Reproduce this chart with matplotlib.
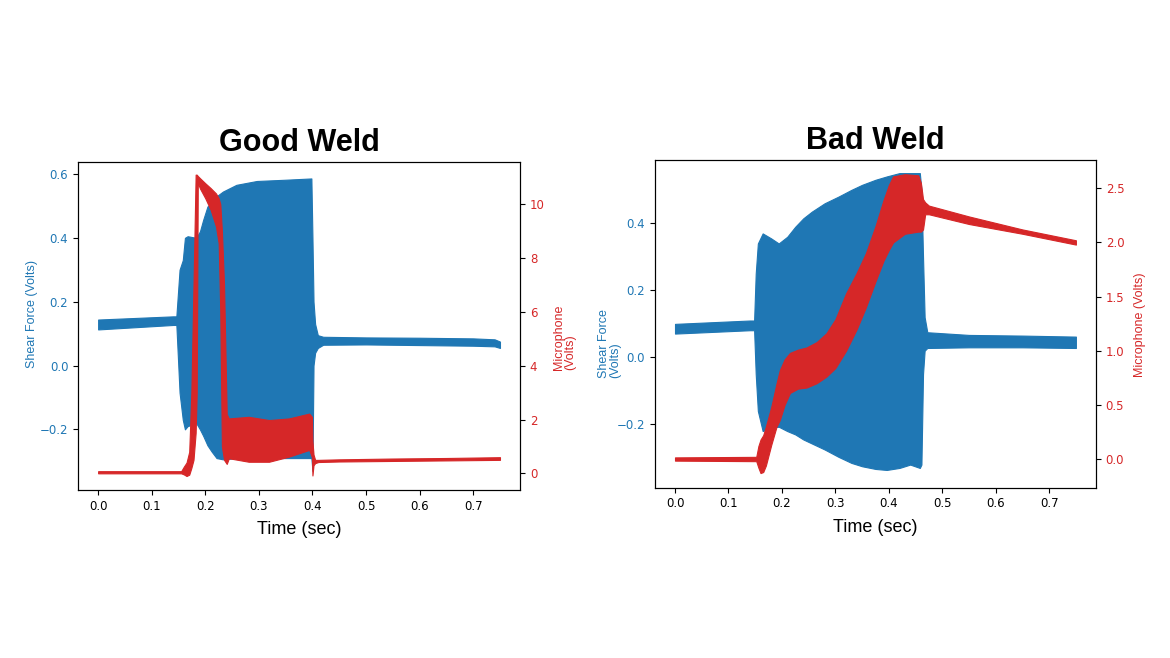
"""Good weld vs bad weld: shear force and microphone envelopes."""

import matplotlib
matplotlib.use("Agg")
import matplotlib.pyplot as plt

BLUE = "#1f77b4"
RED = "#d62728"

# ---- Good weld: shear force envelope (Volts) ----
good_shear_t = [0.000, 0.140, 0.146, 0.152, 0.158, 0.162, 0.167, 0.183, 0.190,
                0.196, 0.204, 0.212, 0.221, 0.233, 0.258, 0.296, 0.350, 0.398,
                0.400, 0.402, 0.405, 0.410, 0.420, 0.500, 0.600, 0.700, 0.740, 0.750]
good_shear_hi = [0.144, 0.154, 0.154, 0.30, 0.33, 0.40, 0.405, 0.40, 0.42,
                 0.456, 0.498, 0.51, 0.53, 0.545, 0.566, 0.578, 0.582, 0.586,
                 0.40, 0.20, 0.13, 0.095, 0.090, 0.088, 0.087, 0.085, 0.082, 0.075]
good_shear_lo = [0.113, 0.127, 0.127, -0.085, -0.17, -0.20, -0.19, -0.18, -0.20,
                 -0.22, -0.25, -0.27, -0.29, -0.294, -0.29, -0.29, -0.29, -0.29,
                 -0.33, 0.00, 0.04, 0.055, 0.065, 0.066, 0.064, 0.062, 0.060, 0.055]

# ---- Good weld: microphone envelope (Volts) ----
good_mic_t = [0.000, 0.155, 0.160, 0.165, 0.170, 0.174, 0.178, 0.182, 0.184,
              0.186, 0.190, 0.200, 0.210, 0.220, 0.225, 0.228, 0.231, 0.235,
              0.240, 0.244, 0.281, 0.319, 0.356, 0.394, 0.399, 0.400, 0.402,
              0.405, 0.411, 0.450, 0.550, 0.650, 0.750]
good_mic_hi = [0.08, 0.08, 0.25, 0.40, 0.80, 3.0, 7.0, 11.1, 11.1,
               11.05, 10.97, 10.78, 10.6, 10.4, 10.22, 10.0, 9.0, 7.0,
               2.2, 2.04, 2.10, 1.98, 2.04, 2.22, 2.10, 1.2, 0.70,
               0.50, 0.50, 0.52, 0.55, 0.57, 0.60]
good_mic_lo = [0.00, 0.00, -0.04, -0.10, -0.05, 0.20, 0.50, 1.5, 3.0,
               10.8, 10.59, 10.22, 9.79, 9.17, 8.55, 6.0, 1.0, 0.5,
               0.35, 0.56, 0.43, 0.43, 0.62, 0.87, 0.60, -0.08, 0.30,
               0.38, 0.42, 0.44, 0.46, 0.48, 0.50]

# ---- Bad weld: shear force envelope (Volts) ----
bad_shear_t = [0.000, 0.140, 0.148, 0.151, 0.155, 0.164, 0.180, 0.194, 0.210,
               0.225, 0.240, 0.256, 0.280, 0.306, 0.330, 0.350, 0.375, 0.396,
               0.420, 0.440, 0.458, 0.461, 0.464, 0.467, 0.472, 0.550, 0.650, 0.750]
bad_shear_hi = [0.100, 0.110, 0.110, 0.25, 0.34, 0.37, 0.355, 0.34, 0.36,
                0.39, 0.415, 0.435, 0.46, 0.48, 0.50, 0.515, 0.53, 0.54,
                0.55, 0.55, 0.55, 0.50, 0.30, 0.12, 0.075, 0.067, 0.065, 0.062]
bad_shear_lo = [0.071, 0.081, 0.081, -0.05, -0.16, -0.22, -0.21, -0.207, -0.22,
                -0.23, -0.245, -0.257, -0.275, -0.297, -0.315, -0.325, -0.333, -0.336,
                -0.33, -0.32, -0.33, -0.32, -0.05, 0.02, 0.028, 0.030, 0.030, 0.028]

# ---- Bad weld: microphone envelope (Volts) ----
bad_mic_t = [0.000, 0.152, 0.156, 0.160, 0.165, 0.170, 0.180, 0.190, 0.196,
             0.205, 0.215, 0.230, 0.246, 0.265, 0.283, 0.300, 0.320, 0.340,
             0.357, 0.375, 0.390, 0.400, 0.408, 0.430, 0.455, 0.460, 0.464,
             0.468, 0.475, 0.550, 0.650, 0.750]
bad_mic_hi = [0.015, 0.02, 0.12, 0.18, 0.22, 0.30, 0.48, 0.70, 0.82,
              0.92, 0.98, 1.01, 1.03, 1.08, 1.16, 1.29, 1.53, 1.72,
              1.90, 2.15, 2.39, 2.53, 2.61, 2.63, 2.62, 2.55, 2.40,
              2.37, 2.34, 2.24, 2.12, 2.02]
bad_mic_lo = [-0.015, -0.02, -0.08, -0.13, -0.12, -0.06, 0.13, 0.30, 0.36,
              0.50, 0.61, 0.65, 0.66, 0.70, 0.76, 0.84, 1.00, 1.20,
              1.40, 1.64, 1.83, 1.93, 2.00, 2.08, 2.10, 2.10, 2.12,
              2.26, 2.26, 2.17, 2.08, 1.98]

time_ticks = [0.0, 0.1, 0.2, 0.3, 0.4, 0.5, 0.6, 0.7]


def weld_panel(rect, title, t_s, s_hi, s_lo, t_m, m_hi, m_lo,
               s_ylim, s_ticks, m_ylim, m_ticks):
    ax = fig.add_axes(rect)
    ax.fill_between(t_s, s_lo, s_hi, color=BLUE, lw=0.8, edgecolor=BLUE)
    ax.set_xlim(-0.0375, 0.7875)
    ax.set_ylim(*s_ylim)
    ax.set_yticks(s_ticks)
    ax.set_xticks(time_ticks)
    ax.tick_params(axis="y", labelcolor=BLUE, labelsize=8.5)
    ax.tick_params(axis="x", labelsize=8.5)
    ax.set_xlabel("Time (sec)", fontsize=13, family="Liberation Sans", labelpad=6)
    ax.set_title(title, fontsize=22, fontweight="bold", family="Liberation Sans", pad=8)

    ax2 = ax.twinx()
    ax2.fill_between(t_m, m_lo, m_hi, color=RED, lw=0.8, edgecolor=RED)
    ax2.set_ylim(*m_ylim)
    ax2.set_yticks(m_ticks)
    ax2.tick_params(axis="y", labelcolor=RED, labelsize=8.5)
    return ax, ax2


fig = plt.figure(figsize=(11.7, 6.58), dpi=100)

# Good weld
ax, ax2 = weld_panel([0.0667, 0.2553, 0.3778, 0.4985], "Good Weld",
                     good_shear_t, good_shear_hi, good_shear_lo,
                     good_mic_t, good_mic_hi, good_mic_lo,
                     (-0.39, 0.6375), [-0.2, 0.0, 0.2, 0.4, 0.6],
                     (-0.62, 11.57), [0, 2, 4, 6, 8, 10])
ax.text(-0.105, 0.371, "Shear Force (Volts)", transform=ax.transAxes, rotation=90,
        rotation_mode="anchor", ha="left", va="center", color=BLUE,
        fontsize=9, family="Liberation Sans")
ax.text(1.101, 0.366, "Microphone\n(Volts)", transform=ax.transAxes, rotation=90,
        rotation_mode="anchor", ha="left", va="center", multialignment="left",
        linespacing=0.85, color=RED, fontsize=9, family="Liberation Sans")

# Bad weld
bx, bx2 = weld_panel([0.5598, 0.2588, 0.3769, 0.498], "Bad Weld",
                     bad_shear_t, bad_shear_hi, bad_shear_lo,
                     bad_mic_t, bad_mic_hi, bad_mic_lo,
                     (-0.389, 0.589), [-0.2, 0.0, 0.2, 0.4],
                     (-0.265, 2.761), [0.0, 0.5, 1.0, 1.5, 2.0, 2.5])
bx.text(-0.103, 0.335, "Shear Force\n(Volts)", transform=bx.transAxes, rotation=90,
        rotation_mode="anchor", ha="left", va="center", multialignment="left",
        linespacing=0.85, color=BLUE, fontsize=9, family="Liberation Sans")
bx.text(1.0998, 0.339, "Microphone (Volts)", transform=bx.transAxes, rotation=90,
        rotation_mode="anchor", ha="left", va="center", color=RED,
        fontsize=9, family="Liberation Sans")

fig.savefig("out.png", dpi=100)
